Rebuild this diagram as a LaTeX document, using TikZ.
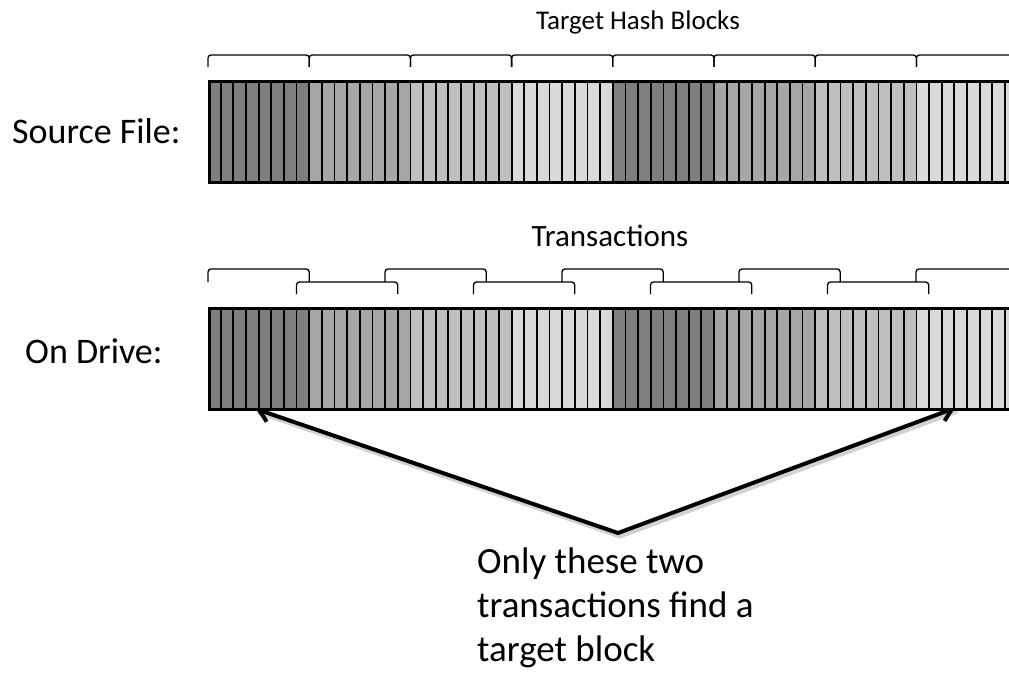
\documentclass[tikz,border=0pt]{standalone}
\usepackage{fontspec}
\setmainfont{Carlito}
\usetikzlibrary{arrows.meta}

\definecolor{tone0}{HTML}{7F7F7F}
\definecolor{tone1}{HTML}{A6A6A6}
\definecolor{tone2}{HTML}{BFBFBF}
\definecolor{tone3}{HTML}{D9D9D9}

\tikzset{
  barframe/.style={draw=black, line width=3pt, minimum width=830pt,
    minimum height=101pt, inner sep=0pt, anchor=north west},
  stripeline/.style={line width=1.8pt},
  bracket/.style={line width=1.3pt, rounded corners=3pt},
  biglabel/.style={font=\fontsize{36}{43}\selectfont, inner sep=0pt},
  caption/.style={font=\fontsize{27}{32}\selectfont, inner sep=0pt},
  note/.style={font=\fontsize{37}{44}\selectfont, inner sep=0pt, align=left},
  pointer/.style={line width=4pt, line join=miter,
    {Straight Barb[length=11pt,width=17pt]}-{Straight Barb[length=11pt,width=17pt]}},
  pointershadow/.style={line width=5pt, line join=miter, draw=black, opacity=0.18}
}

\begin{document}
\begin{tikzpicture}[x=1pt,y=-1pt]
\useasboundingbox (0,0) rectangle (1009,674);
\clip (0,0) rectangle (1009,674);

% ---- source file: striped bar, 8 hash blocks of 8 stripes each
\foreach \k in {0,...,7}{
  \pgfmathtruncatemacro\c{mod(\k,4)}
  \fill[tone\c] (208+101.2*\k,80) rectangle ++(101.2,101);
}
\foreach \i in {1,...,64} \draw[stripeline] (208+12.65*\i,80) -- ++(0,101);
\node[barframe] (src) at (208,80) {};

% target hash block brackets
\foreach \k in {0,...,8}
  \draw[bracket] (208+101.2*\k,67) -- ++(0,-12) -- ++(101.2,0) -- ++(0,12);
\node[caption, anchor=base] (thb) at (638,30) {Target Hash Blocks};

% ---- pointers from the note up to the matching stripes
\coordinate (apex) at (618,533);
\coordinate (hitL) at (256,409);
\coordinate (hitR) at (955,408);
\draw[pointershadow] ([shift={(2,3)}]hitL) -- ([shift={(2,3)}]apex) -- ([shift={(2,3)}]hitR);
\draw[pointer] (hitL) -- (apex) -- (hitR);

% ---- data on drive: same striped bar
\begin{scope}[shift={(0,226.5)}]
\foreach \k in {0,...,7}{
  \pgfmathtruncatemacro\c{mod(\k,4)}
  \fill[tone\c] (208+101.2*\k,80) rectangle ++(101.2,101);
}
\foreach \i in {1,...,64} \draw[stripeline] (208+12.65*\i,80) -- ++(0,101);
\node[barframe] (drv) at (208,80) {};
\end{scope}

% overlapping transaction brackets in two staggered rows
\foreach \i in {0,2,...,8}
  \draw[bracket] (208+88.5*\i,282) -- (208+88.5*\i,269) -- (309.2+88.5*\i,269) -- (309.2+88.5*\i,282);
\foreach \i in {1,3,...,7}
  \draw[bracket] (208+88.5*\i,294) -- (208+88.5*\i,282) -- (309.2+88.5*\i,282) -- (309.2+88.5*\i,294);
\node[caption, font=\fontsize{31}{36}\selectfont, anchor=base] (txn) at (610,246) {Transactions};

% ---- labels
\node[biglabel, anchor=base west] (srclbl) at (12,143) {Source File:};
\node[biglabel, anchor=base west] (drvlbl) at (25,363) {On Drive:};
\node[note, anchor=base west] (msg) at (477,661) {Only these two\\transactions find a\\target block};
\end{tikzpicture}
\end{document}
